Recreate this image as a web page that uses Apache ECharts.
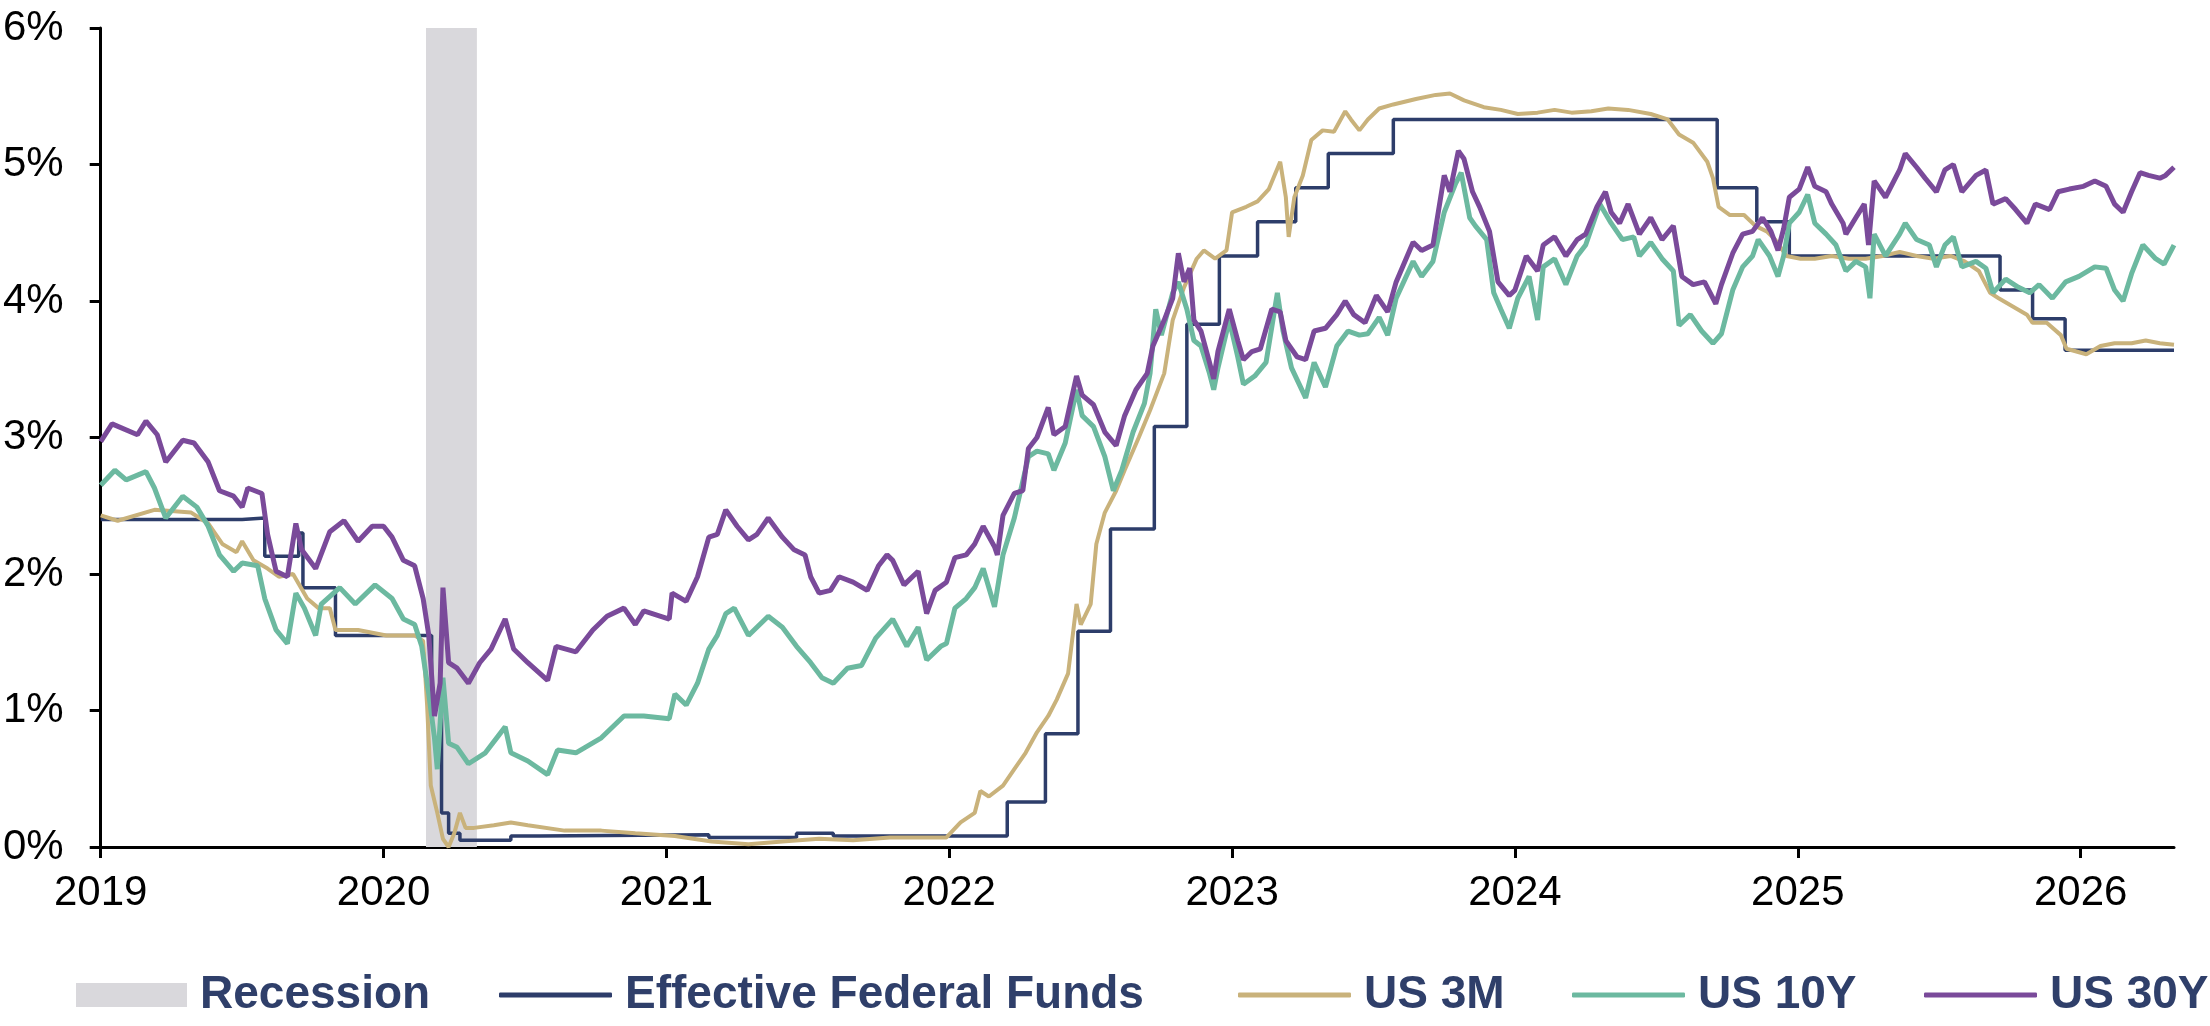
<!DOCTYPE html>
<html>
<head>
<meta charset="utf-8">
<script src="https://cdn.jsdelivr.net/npm/echarts@6/dist/echarts.min.js"></script>
<style>
  html, body { margin: 0; padding: 0; background: #fff; }
  #chart { width: 2210px; height: 1026px; }
</style>
</head>
<body>
<div id="chart"></div>
<script>
// x values are decimal years, y values are rates in %
var yearTicks = [2019, 2020, 2021, 2022, 2023, 2024, 2025, 2026];
var recession = [2020.15, 2020.33];

// effective fed funds, value holds until next point
var fedFunds = [
  [2019.00, 2.40], [2019.50, 2.41], [2019.58, 2.13], [2019.70, 2.30], [2019.715, 1.90],
  [2019.83, 1.55], [2020.17, 1.10], [2020.205, 0.25], [2020.23, 0.10], [2020.27, 0.05],
  [2020.45, 0.08], [2020.55, 0.09], [2021.15, 0.07], [2021.46, 0.10], [2021.59, 0.08],
  [2022.205, 0.33], [2022.34, 0.83], [2022.455, 1.58], [2022.57, 2.33], [2022.725, 3.08],
  [2022.84, 3.83], [2022.955, 4.33], [2023.09, 4.58], [2023.225, 4.83], [2023.34, 5.08],
  [2023.57, 5.33], [2024.715, 4.83], [2024.855, 4.58], [2024.97, 4.33], [2025.715, 4.08],
  [2025.83, 3.87], [2025.945, 3.64], [2026.33, 3.64]
];

var us3m = [
  [2019.00, 2.43], [2019.06, 2.39], [2019.19, 2.47], [2019.32, 2.45], [2019.38, 2.37],
  [2019.43, 2.22], [2019.48, 2.16], [2019.50, 2.24], [2019.54, 2.10], [2019.59, 2.04],
  [2019.63, 1.98], [2019.68, 2.00], [2019.73, 1.82], [2019.77, 1.75], [2019.81, 1.75],
  [2019.83, 1.59], [2019.91, 1.59], [2020.01, 1.55], [2020.11, 1.55], [2020.14, 1.51],
  [2020.154, 1.04], [2020.167, 0.45], [2020.19, 0.25], [2020.21, 0.06], [2020.23, 0.00],
  [2020.25, 0.10], [2020.27, 0.25], [2020.29, 0.14], [2020.32, 0.14], [2020.39, 0.16],
  [2020.45, 0.18], [2020.51, 0.16], [2020.64, 0.12], [2020.77, 0.12], [2020.89, 0.10],
  [2021.03, 0.08], [2021.16, 0.04], [2021.29, 0.02], [2021.41, 0.04], [2021.54, 0.06],
  [2021.66, 0.05], [2021.79, 0.07], [2021.92, 0.07], [2021.99, 0.07], [2022.04, 0.18],
  [2022.09, 0.25], [2022.11, 0.41], [2022.14, 0.37], [2022.19, 0.45], [2022.23, 0.57],
  [2022.27, 0.69], [2022.31, 0.84], [2022.35, 0.96], [2022.38, 1.08], [2022.42, 1.27],
  [2022.45, 1.78], [2022.465, 1.63], [2022.50, 1.78], [2022.52, 2.22], [2022.55, 2.45],
  [2022.59, 2.61], [2022.62, 2.76], [2022.67, 3.00], [2022.71, 3.20], [2022.76, 3.47],
  [2022.79, 3.86], [2022.83, 4.10], [2022.875, 4.31], [2022.90, 4.37], [2022.94, 4.31],
  [2022.98, 4.37], [2023.00, 4.65], [2023.05, 4.69], [2023.09, 4.73], [2023.13, 4.82],
  [2023.17, 5.02], [2023.19, 4.76], [2023.20, 4.47], [2023.22, 4.76], [2023.25, 4.92],
  [2023.28, 5.18], [2023.32, 5.25], [2023.36, 5.24], [2023.40, 5.39], [2023.42, 5.33],
  [2023.45, 5.25], [2023.48, 5.33], [2023.52, 5.41], [2023.57, 5.44], [2023.65, 5.48],
  [2023.72, 5.51], [2023.77, 5.52], [2023.82, 5.47], [2023.89, 5.42], [2023.95, 5.40],
  [2024.01, 5.37], [2024.08, 5.38], [2024.14, 5.40], [2024.20, 5.38], [2024.27, 5.39],
  [2024.33, 5.41], [2024.40, 5.40], [2024.48, 5.37], [2024.54, 5.33], [2024.58, 5.22],
  [2024.63, 5.16], [2024.68, 5.02], [2024.70, 4.90], [2024.72, 4.69], [2024.76, 4.63],
  [2024.81, 4.63], [2024.85, 4.55], [2024.89, 4.51], [2024.92, 4.45], [2024.96, 4.33],
  [2025.01, 4.31], [2025.06, 4.31], [2025.12, 4.33], [2025.18, 4.31], [2025.24, 4.31],
  [2025.30, 4.33], [2025.36, 4.36], [2025.42, 4.33], [2025.48, 4.31], [2025.54, 4.33],
  [2025.59, 4.29], [2025.64, 4.22], [2025.68, 4.06], [2025.71, 4.02], [2025.76, 3.96],
  [2025.81, 3.90], [2025.83, 3.84], [2025.88, 3.84], [2025.93, 3.75], [2025.95, 3.65],
  [2026.02, 3.61], [2026.07, 3.67], [2026.12, 3.69], [2026.18, 3.69], [2026.23, 3.71],
  [2026.28, 3.69], [2026.33, 3.68]
];

var us10y = [
  [2019.00, 2.65], [2019.05, 2.76], [2019.09, 2.69], [2019.16, 2.75], [2019.19, 2.63],
  [2019.23, 2.41], [2019.29, 2.57], [2019.34, 2.49], [2019.38, 2.35], [2019.42, 2.14],
  [2019.47, 2.02], [2019.50, 2.08], [2019.555, 2.06], [2019.58, 1.82], [2019.62, 1.59],
  [2019.66, 1.49], [2019.69, 1.86], [2019.72, 1.75], [2019.76, 1.55], [2019.78, 1.78],
  [2019.845, 1.90], [2019.90, 1.78], [2019.97, 1.92], [2020.03, 1.82], [2020.07, 1.67],
  [2020.11, 1.63], [2020.135, 1.47], [2020.16, 1.12], [2020.18, 0.80], [2020.19, 0.57],
  [2020.21, 1.24], [2020.23, 0.76], [2020.26, 0.73], [2020.30, 0.61], [2020.36, 0.69],
  [2020.43, 0.88], [2020.45, 0.69], [2020.51, 0.63], [2020.58, 0.53], [2020.615, 0.71],
  [2020.68, 0.69], [2020.77, 0.80], [2020.85, 0.96], [2020.92, 0.96], [2021.01, 0.94],
  [2021.03, 1.12], [2021.07, 1.04], [2021.11, 1.20], [2021.15, 1.45], [2021.18, 1.55],
  [2021.21, 1.71], [2021.24, 1.75], [2021.29, 1.55], [2021.32, 1.61], [2021.36, 1.69],
  [2021.41, 1.61], [2021.46, 1.47], [2021.51, 1.35], [2021.55, 1.24], [2021.59, 1.20],
  [2021.64, 1.31], [2021.69, 1.33], [2021.74, 1.53], [2021.80, 1.67], [2021.85, 1.47],
  [2021.89, 1.61], [2021.92, 1.37], [2021.97, 1.47], [2021.99, 1.49], [2022.02, 1.75],
  [2022.06, 1.82], [2022.09, 1.90], [2022.12, 2.04], [2022.16, 1.76], [2022.19, 2.14],
  [2022.23, 2.41], [2022.28, 2.86], [2022.31, 2.90], [2022.35, 2.88], [2022.37, 2.76],
  [2022.41, 2.96], [2022.45, 3.35], [2022.47, 3.16], [2022.51, 3.08], [2022.55, 2.86],
  [2022.58, 2.61], [2022.61, 2.76], [2022.65, 3.04], [2022.69, 3.25], [2022.71, 3.47],
  [2022.73, 3.94], [2022.75, 3.75], [2022.79, 4.06], [2022.81, 4.14], [2022.84, 3.94],
  [2022.865, 3.71], [2022.89, 3.67], [2022.92, 3.47], [2022.935, 3.35], [2022.95, 3.51],
  [2022.99, 3.86], [2023.02, 3.59], [2023.04, 3.39], [2023.08, 3.45], [2023.12, 3.55],
  [2023.16, 4.06], [2023.18, 3.78], [2023.21, 3.51], [2023.26, 3.29], [2023.29, 3.55],
  [2023.33, 3.37], [2023.37, 3.67], [2023.41, 3.78], [2023.45, 3.75], [2023.48, 3.76],
  [2023.52, 3.88], [2023.55, 3.75], [2023.58, 4.02], [2023.64, 4.29], [2023.67, 4.18],
  [2023.71, 4.29], [2023.75, 4.65], [2023.79, 4.86], [2023.81, 4.94], [2023.84, 4.61],
  [2023.86, 4.55], [2023.90, 4.45], [2023.925, 4.06], [2023.95, 3.94], [2023.98, 3.80],
  [2024.01, 4.02], [2024.05, 4.18], [2024.08, 3.86], [2024.10, 4.25], [2024.14, 4.31],
  [2024.18, 4.12], [2024.22, 4.33], [2024.25, 4.41], [2024.30, 4.71], [2024.34, 4.57],
  [2024.38, 4.45], [2024.42, 4.47], [2024.44, 4.33], [2024.48, 4.43], [2024.52, 4.31],
  [2024.56, 4.22], [2024.58, 3.82], [2024.62, 3.90], [2024.66, 3.78], [2024.70, 3.69],
  [2024.73, 3.76], [2024.77, 4.08], [2024.805, 4.25], [2024.84, 4.33], [2024.86, 4.45],
  [2024.90, 4.33], [2024.93, 4.18], [2024.95, 4.33], [2024.97, 4.57], [2025.005, 4.65],
  [2025.035, 4.78], [2025.06, 4.57], [2025.10, 4.49], [2025.135, 4.41], [2025.17, 4.22],
  [2025.205, 4.29], [2025.24, 4.25], [2025.255, 4.02], [2025.27, 4.49], [2025.31, 4.33],
  [2025.36, 4.49], [2025.38, 4.57], [2025.42, 4.45], [2025.465, 4.41], [2025.49, 4.25],
  [2025.52, 4.41], [2025.55, 4.47], [2025.58, 4.25], [2025.63, 4.29], [2025.665, 4.24],
  [2025.69, 4.06], [2025.735, 4.16], [2025.78, 4.10], [2025.82, 4.06], [2025.853, 4.12],
  [2025.90, 4.02], [2025.947, 4.14], [2025.994, 4.18], [2026.05, 4.25], [2026.09, 4.24],
  [2026.12, 4.08], [2026.15, 4.00], [2026.18, 4.20], [2026.22, 4.41], [2026.265, 4.31],
  [2026.295, 4.27], [2026.33, 4.41]
];

var us30y = [
  [2019.00, 2.97], [2019.04, 3.10], [2019.13, 3.02], [2019.16, 3.12], [2019.20, 3.02],
  [2019.23, 2.82], [2019.29, 2.98], [2019.33, 2.96], [2019.38, 2.82], [2019.42, 2.61],
  [2019.47, 2.57], [2019.50, 2.49], [2019.52, 2.63], [2019.57, 2.59], [2019.59, 2.29],
  [2019.62, 2.02], [2019.66, 1.98], [2019.69, 2.37], [2019.71, 2.18], [2019.76, 2.04],
  [2019.81, 2.31], [2019.86, 2.39], [2019.91, 2.24], [2019.96, 2.35], [2020.00, 2.35],
  [2020.03, 2.27], [2020.07, 2.10], [2020.11, 2.06], [2020.14, 1.82], [2020.16, 1.55],
  [2020.18, 0.96], [2020.20, 1.20], [2020.21, 1.90], [2020.23, 1.35], [2020.26, 1.31],
  [2020.30, 1.20], [2020.34, 1.35], [2020.38, 1.45], [2020.43, 1.67], [2020.46, 1.45],
  [2020.51, 1.35], [2020.58, 1.22], [2020.61, 1.47], [2020.68, 1.43], [2020.74, 1.59],
  [2020.79, 1.69], [2020.85, 1.75], [2020.89, 1.63], [2020.92, 1.73], [2021.01, 1.67],
  [2021.02, 1.86], [2021.07, 1.80], [2021.11, 1.98], [2021.15, 2.27], [2021.18, 2.29],
  [2021.21, 2.47], [2021.25, 2.35], [2021.29, 2.25], [2021.32, 2.29], [2021.36, 2.41],
  [2021.41, 2.27], [2021.45, 2.18], [2021.49, 2.14], [2021.51, 1.98], [2021.54, 1.86],
  [2021.58, 1.88], [2021.61, 1.98], [2021.66, 1.94], [2021.71, 1.88], [2021.75, 2.06],
  [2021.78, 2.14], [2021.80, 2.10], [2021.84, 1.92], [2021.89, 2.02], [2021.92, 1.71],
  [2021.95, 1.88], [2021.99, 1.94], [2022.02, 2.12], [2022.06, 2.14], [2022.09, 2.22],
  [2022.12, 2.35], [2022.16, 2.20], [2022.17, 2.14], [2022.19, 2.43], [2022.23, 2.59],
  [2022.26, 2.61], [2022.28, 2.92], [2022.31, 3.00], [2022.35, 3.22], [2022.37, 3.02],
  [2022.41, 3.08], [2022.45, 3.45], [2022.47, 3.31], [2022.51, 3.24], [2022.55, 3.04],
  [2022.59, 2.94], [2022.62, 3.16], [2022.66, 3.35], [2022.70, 3.47], [2022.72, 3.67],
  [2022.76, 3.86], [2022.79, 4.02], [2022.81, 4.35], [2022.83, 4.14], [2022.85, 4.24],
  [2022.865, 3.86], [2022.89, 3.78], [2022.92, 3.55], [2022.935, 3.43], [2022.95, 3.63],
  [2022.99, 3.94], [2023.02, 3.71], [2023.04, 3.57], [2023.07, 3.63], [2023.10, 3.65],
  [2023.14, 3.94], [2023.17, 3.92], [2023.19, 3.71], [2023.23, 3.59], [2023.26, 3.57],
  [2023.29, 3.78], [2023.33, 3.80], [2023.37, 3.90], [2023.40, 4.00], [2023.43, 3.90],
  [2023.47, 3.84], [2023.51, 4.04], [2023.55, 3.92], [2023.58, 4.14], [2023.64, 4.43],
  [2023.67, 4.37], [2023.71, 4.41], [2023.75, 4.92], [2023.77, 4.80], [2023.80, 5.10],
  [2023.82, 5.04], [2023.85, 4.80], [2023.875, 4.69], [2023.91, 4.51], [2023.94, 4.14],
  [2023.98, 4.04], [2024.00, 4.08], [2024.04, 4.33], [2024.08, 4.22], [2024.10, 4.41],
  [2024.14, 4.47], [2024.18, 4.33], [2024.22, 4.45], [2024.25, 4.49], [2024.29, 4.69],
  [2024.32, 4.80], [2024.34, 4.65], [2024.37, 4.57], [2024.40, 4.71], [2024.44, 4.49],
  [2024.48, 4.61], [2024.52, 4.45], [2024.56, 4.55], [2024.59, 4.18], [2024.63, 4.12],
  [2024.67, 4.14], [2024.71, 3.98], [2024.73, 4.12], [2024.77, 4.35], [2024.805, 4.49],
  [2024.84, 4.51], [2024.875, 4.61], [2024.905, 4.51], [2024.93, 4.37], [2024.95, 4.53],
  [2024.97, 4.76], [2025.005, 4.82], [2025.035, 4.98], [2025.06, 4.84], [2025.10, 4.80],
  [2025.12, 4.71], [2025.16, 4.57], [2025.17, 4.49], [2025.205, 4.61], [2025.235, 4.71],
  [2025.25, 4.41], [2025.27, 4.88], [2025.31, 4.76], [2025.36, 4.96], [2025.38, 5.08],
  [2025.42, 4.98], [2025.45, 4.90], [2025.49, 4.80], [2025.52, 4.96], [2025.55, 5.00],
  [2025.58, 4.80], [2025.63, 4.92], [2025.665, 4.96], [2025.69, 4.71], [2025.735, 4.75],
  [2025.77, 4.67], [2025.81, 4.57], [2025.84, 4.71], [2025.89, 4.67], [2025.92, 4.80],
  [2025.96, 4.82], [2026.01, 4.84], [2026.05, 4.88], [2026.09, 4.84], [2026.12, 4.71],
  [2026.15, 4.65], [2026.18, 4.80], [2026.21, 4.94], [2026.24, 4.92], [2026.28, 4.90],
  [2026.30, 4.92], [2026.33, 4.98]
];

var colors = {
  recession: '#D9D8DC',
  fed: '#2D3D6A',
  m3: '#C9B27B',
  y10: '#6CB9A0',
  y30: '#7A4A9A',
  legendText: '#2F3F6A'
};

var font = "'Liberation Sans', Arial, sans-serif";
var chart = echarts.init(document.getElementById('chart'));

// Excel-style legend: one block per entry, positioned like the original
var legendSpots = [
  { name: 'Recession', left: 71, icon: 'rect', w: 111, h: 24 },
  { name: 'Effective Federal Funds', left: 494, icon: 'roundRect', w: 113, h: 5 },
  { name: 'US 3M', left: 1233, icon: 'roundRect', w: 113, h: 5 },
  { name: 'US 10Y', left: 1567, icon: 'roundRect', w: 113, h: 5 },
  { name: 'US 30Y', left: 1919, icon: 'roundRect', w: 113, h: 5 }
];

var option = {
  animation: false,
  backgroundColor: '#fff',
  grid: { left: 100, right: 36, top: 28, bottom: 179, containLabel: false },
  legend: legendSpots.map(function (l) {
    return {
      data: [{ name: l.name, icon: l.icon }],
      left: l.left,
      top: 967,
      itemWidth: l.w,
      itemHeight: l.h,
      selectedMode: false,
      textStyle: {
        fontFamily: font, fontSize: 46, fontWeight: 'bold',
        color: colors.legendText, padding: [0, 0, 0, 8]
      }
    };
  }),
  xAxis: {
    type: 'value',
    min: 2019,
    max: 2026.33,
    interval: 1,
    splitLine: { show: false },
    axisLine: { onZero: false, lineStyle: { color: '#000', width: 3 } },
    axisTick: { show: true, length: 11, lineStyle: { color: '#000', width: 3 }, customValues: yearTicks },
    axisLabel: {
      customValues: yearTicks,
      margin: 25,
      fontFamily: font, fontSize: 42, color: '#000',
      formatter: function (v) { return String(Math.round(v)); }
    }
  },
  yAxis: {
    type: 'value',
    min: 0,
    max: 6,
    interval: 1,
    splitLine: { show: false },
    axisLine: { show: true, lineStyle: { color: '#000', width: 3 } },
    axisTick: { show: true, length: 11, lineStyle: { color: '#000', width: 3 } },
    axisLabel: { margin: 37, fontFamily: font, fontSize: 42, color: '#000', formatter: '{value}%' }
  },
  series: [
    {
      name: 'Recession',
      type: 'line',
      data: [],
      color: colors.recession,
      itemStyle: { color: colors.recession },
      markArea: {
        silent: true,
        itemStyle: { color: colors.recession },
        data: [[{ xAxis: recession[0] }, { xAxis: recession[1] }]]
      }
    },
    {
      name: 'Effective Federal Funds',
      type: 'line',
      step: 'end',
      data: fedFunds,
      symbol: 'none',
      color: colors.fed,
      lineStyle: { color: colors.fed, width: 3.5 }
    },
    {
      name: 'US 3M',
      type: 'line',
      data: us3m,
      symbol: 'none',
      color: colors.m3,
      lineStyle: { color: colors.m3, width: 4 }
    },
    {
      name: 'US 10Y',
      type: 'line',
      data: us10y,
      symbol: 'none',
      color: colors.y10,
      lineStyle: { color: colors.y10, width: 5 }
    },
    {
      name: 'US 30Y',
      type: 'line',
      data: us30y,
      symbol: 'none',
      color: colors.y30,
      lineStyle: { color: colors.y30, width: 5 }
    }
  ]
};

chart.setOption(option);
</script>
</body>
</html>
